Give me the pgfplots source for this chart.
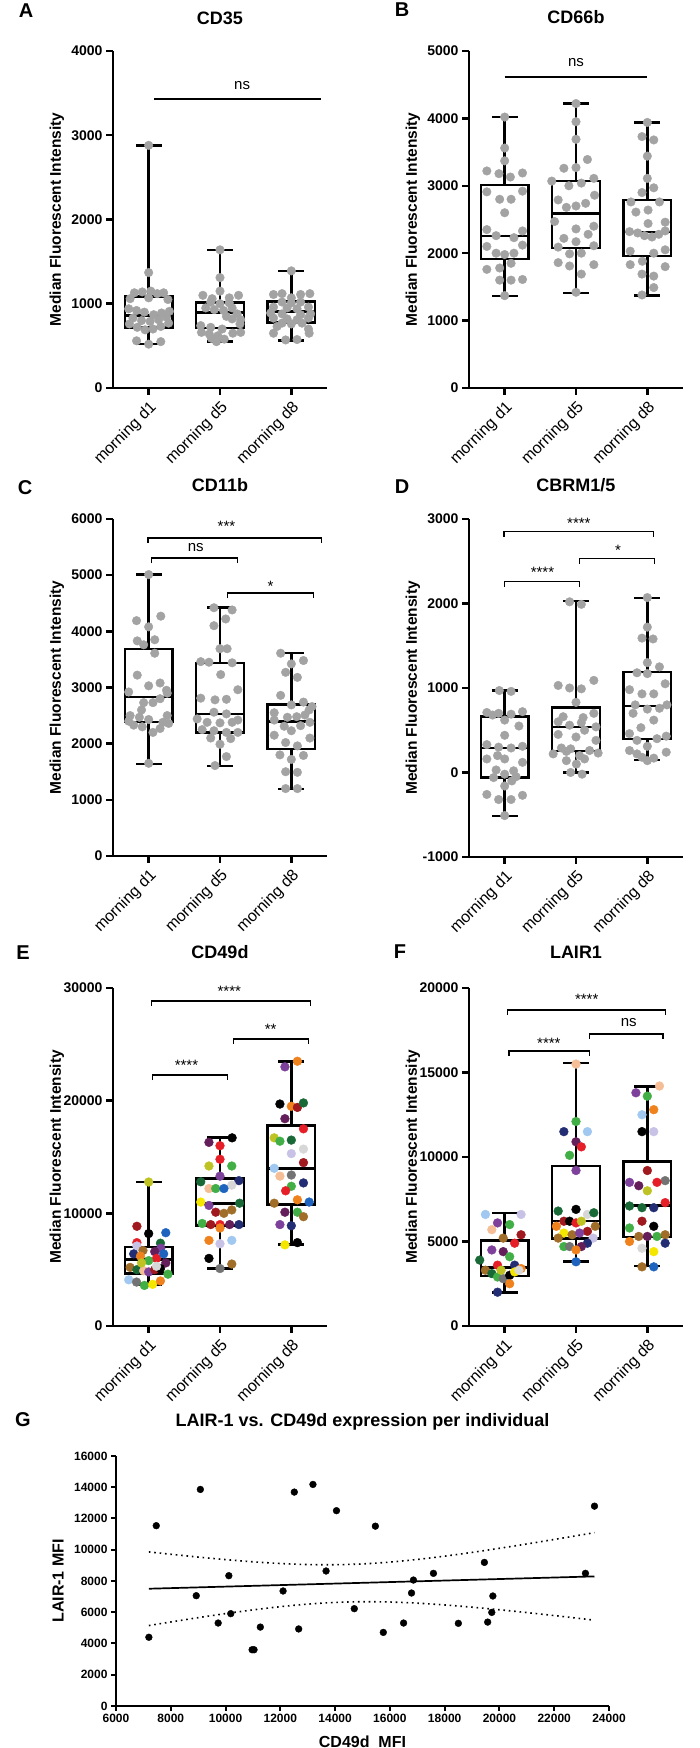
\documentclass[border=0pt]{standalone}
\usepackage{fontspec}
\setmainfont{Liberation Sans}
\usepackage{pgfplots}
\pgfplotsset{compat=1.18}

\definecolor{ptgrey}{RGB}{163,163,163}
\definecolor{cRed}{RGB}{230,30,40}
\definecolor{cDarkRed}{RGB}{160,25,30}
\definecolor{cBlue}{RGB}{30,100,190}
\definecolor{cNavy}{RGB}{35,45,115}
\definecolor{cDarkGreen}{RGB}{25,105,55}
\definecolor{cGreen}{RGB}{65,175,70}
\definecolor{cYellowGreen}{RGB}{190,195,35}
\definecolor{cYellow}{RGB}{245,230,0}
\definecolor{cOrange}{RGB}{240,130,30}
\definecolor{cBrown}{RGB}{160,110,40}
\definecolor{cPurple}{RGB}{125,65,155}
\definecolor{cDarkPurple}{RGB}{100,30,90}
\definecolor{cLavender}{RGB}{200,195,230}
\definecolor{cLightBlue}{RGB}{160,200,240}
\definecolor{cPeach}{RGB}{245,190,150}
\definecolor{cGrey}{RGB}{115,115,115}
\definecolor{cLightGrey}{RGB}{215,215,215}

\pgfplotsset{
  boxax/.style={
    scale only axis, width=214pt, height=337pt,
    xmin=-0.5, xmax=2.5,
    axis x line*=bottom, axis y line*=left,
    axis line style={line width=2.5pt, -},
    tick align=outside, major tick length=7pt,
    every tick/.style={black, line width=2.5pt},
    scaled y ticks=false, scaled x ticks=false,
    xtick={0,1,2}, xticklabels={morning d1, morning d5, morning d8},
    xticklabel style={rotate=45, anchor=north east, font=\fontsize{16}{18}\selectfont},
    yticklabel style={font=\fontsize{14}{16}\selectfont\bfseries},
    ylabel={Median Fluorescent Intensity},
    ylabel style={font=\fontsize{15.5}{18}\selectfont\bfseries, at={(axis description cs:-0.262,0.5)}, anchor=center},
    title style={font=\fontsize{18}{20}\selectfont\bfseries, at={(axis description cs:0.5,1)}, anchor=base},
    clip=false,
  },
  bp/.style={black, line width=2.5pt, solid, mark=none, line join=miter, line cap=rect, forget plot},
  gp/.style={only marks, mark=*, mark size=4.3pt, color=ptgrey},
  cp/.style={scatter, only marks, mark=*, mark size=4.4pt, scatter src=explicit symbolic,
    scatter/classes={
      r={cRed}, dr={cDarkRed}, k={black}, b={cBlue}, nv={cNavy}, dg={cDarkGreen},
      g={cGreen}, yg={cYellowGreen}, y={cYellow}, o={cOrange}, br={cBrown},
      p={cPurple}, dp={cDarkPurple}, lv={cLavender}, lb={cLightBlue}, pc={cPeach},
      gr={cGrey}, lg={cLightGrey}}},
}
\tikzset{
  sigline/.style={line width=1.1pt, black},
  sigtxt/.style={font=\fontsize{15}{17}\selectfont, anchor=center, inner sep=0pt},
  letter/.style={font=\fontsize{20}{22}\selectfont\bfseries, anchor=center},
}
% box: left, right, q1, median, q3
\newcommand{\bxbox}[5]{%
  \addplot[bp] coordinates {(#1,#3) (#2,#3) (#2,#5) (#1,#5) (#1,#3)};
  \addplot[bp] coordinates {(#1,#4) (#2,#4)};}
% whiskers: centre, cap left, cap right, lower whisker, q1, q3, upper whisker
\newcommand{\bxwh}[7]{%
  \addplot[bp] coordinates {(#1,#6) (#1,#7)};
  \addplot[bp] coordinates {(#1,#4) (#1,#5)};
  \addplot[bp] coordinates {(#2,#7) (#3,#7)};
  \addplot[bp] coordinates {(#2,#4) (#3,#4)};}

\begin{document}
\begin{tikzpicture}
\useasboundingbox (0pt,0pt) rectangle (700pt,1748pt);

\node[letter] at (26pt,1737pt) {A};
\node[letter] at (402pt,1738pt) {B};
\node[letter] at (25pt,1260pt) {C};
\node[letter] at (402pt,1261pt) {D};
\node[letter] at (23pt,795pt) {E};
\node[letter] at (400pt,796pt) {F};
\node[letter] at (23pt,328pt) {G};

% ---------------- A -----------------
\begin{axis}[boxax, at={(113pt,1360pt)}, anchor=south west,
  ymin=0, ymax=4000, ytick={0,1000,2000,3000,4000}, yticklabels={0,1000,2000,3000,4000},
  title={CD35}, title style={yshift=20pt}]
\bxbox{-0.335}{0.335}{715}{858}{1087}
\bxwh{0}{-0.165}{0.165}{520}{715}{1087}{2880}
\bxbox{0.665}{1.335}{711}{897}{1012}
\bxwh{1}{0.835}{1.165}{553}{711}{1012}{1640}
\bxbox{1.665}{2.335}{775}{909}{1028}
\bxwh{2}{1.835}{2.165}{565}{775}{1028}{1390}
\addplot[gp] table[row sep=\\] {x y\\
0 2880\\ 0 1370\\ -0.2 1130\\ -0.09 1140\\ 0.03 1150\\ 0.12 1120\\ 0.21 1130\\ -0.26 1060\\ 0.0 1070\\ 0.27 1050\\
-0.28 940\\ -0.17 920\\ -0.06 900\\ 0.07 870\\ 0.18 890\\ 0.29 910\\ -0.22 830\\ -0.1 800\\ 0.02 790\\ 0.14 810\\
0.25 840\\ -0.27 760\\ -0.16 720\\ -0.05 690\\ 0.06 700\\ 0.17 730\\ 0.28 770\\ -0.17 560\\ 0 520\\ 0.17 550\\
1 1640\\ 1 1310\\ 1 1150\\ 0.76 1100\\ 0.89 1060\\ 1.13 1070\\ 1.26 1100\\ 0.87 1020\\ 1 1000\\ 1.13 1010\\
0.8 950\\ 0.92 930\\ 1.05 920\\ 1.17 950\\ 1.24 880\\ 1.09 850\\ 1.17 820\\ 1.29 810\\ 0.73 740\\ 0.87 720\\
1.03 700\\ 0.74 660\\ 0.85 640\\ 0.97 620\\ 1.18 650\\ 1.29 660\\ 0.88 590\\ 1.06 580\\ 0.95 550\\ 1.28 760\\
2 1390\\ 1.75 1110\\ 1.87 1120\\ 2.13 1110\\ 2.26 1120\\ 2 1070\\ 1.87 1020\\ 2 1010\\ 2.13 1020\\ 1.75 960\\
1.94 950\\ 2.08 940\\ 2.24 960\\ 1.71 890\\ 1.87 880\\ 2.13 870\\ 2.27 880\\ 1.75 830\\ 1.94 820\\ 2.08 810\\
2.24 830\\ 1.87 770\\ 2 760\\ 2.15 770\\ 2.24 700\\ 1.75 650\\ 2.25 650\\ 1.92 570\\ 2.08 575\\ 1.8 730\\
};
\draw[sigline] (axis cs:0.08,3430) -- (axis cs:2.41,3430);
\node[sigtxt] at (axis cs:1.31,3585) {ns};
\end{axis}

% ---------------- B -----------------
\begin{axis}[boxax, at={(469pt,1360pt)}, anchor=south west,
  ymin=0, ymax=5000, ytick={0,1000,2000,3000,4000,5000}, yticklabels={0,1000,2000,3000,4000,5000},
  title={CD66b}, title style={yshift=21pt}]
\bxbox{-0.335}{0.335}{1917}{2258}{3014}
\bxwh{0}{-0.165}{0.165}{1364}{1917}{3014}{4022}
\bxbox{0.665}{1.335}{2075}{2589}{3073}
\bxwh{1}{0.835}{1.165}{1408}{2075}{3073}{4224}
\bxbox{1.665}{2.335}{1957}{2312}{2787}
\bxwh{2}{1.835}{2.165}{1374}{1957}{2787}{3938}
\addplot[gp] table[row sep=\\] {x y\\
0 4020\\ 0 3560\\ 0 3370\\ -0.25 3220\\ -0.08 3180\\ 0.08 3130\\ 0.25 3190\\ -0.25 2910\\ 0.25 2920\\ -0.07 2800\\
0.09 2800\\ 0 2600\\ -0.25 2350\\ 0.25 2330\\ -0.12 2260\\ 0.13 2230\\ 0.25 2120\\ -0.25 2100\\ -0.12 2000\\ 0.13 2000\\
0 1980\\ 0.09 1850\\ -0.07 1780\\ -0.25 1760\\ -0.07 1600\\ 0.09 1600\\ 0.25 1610\\ 0 1370\\
1 4220\\ 1 3950\\ 1 3690\\ 1.16 3390\\ 0.83 3260\\ 1 3270\\ 1.25 3110\\ 0.66 3070\\ 1.075 3040\\ 0.9 3000\\
1.26 2860\\ 0.75 2790\\ 1.135 2740\\ 0.865 2680\\ 1 2700\\ 0.7 2470\\ 1.25 2400\\ 1 2360\\ 1.17 2280\\ 0.83 2220\\
1 2170\\ 1.25 2110\\ 0.75 2090\\ 0.91 1990\\ 1.075 2000\\ 0.75 1860\\ 0.91 1810\\ 1.25 1830\\ 1.075 1690\\ 1 1420\\
2 3940\\ 1.925 3730\\ 2.09 3680\\ 2 3440\\ 2 3110\\ 2.09 2970\\ 1.925 2900\\ 1.77 2760\\ 2.17 2760\\ 1.84 2610\\
2.01 2640\\ 2.25 2460\\ 2.01 2440\\ 1.75 2320\\ 1.865 2300\\ 1.96 2260\\ 2.065 2240\\ 2.16 2280\\ 2.25 2330\\ 1.76 2030\\
2.09 2000\\ 2.25 2050\\ 1.93 1880\\ 1.76 1830\\ 2.25 1800\\ 1.925 1690\\ 2.09 1660\\ 2.09 1490\\ 1.925 1380\\
};
\draw[sigline] (axis cs:0,4614) -- (axis cs:2,4614);
\node[sigtxt] at (axis cs:1,4822) {ns};
\end{axis}

% ---------------- C -----------------
\begin{axis}[boxax, at={(113pt,892pt)}, anchor=south west,
  ymin=0, ymax=6000, ytick={0,1000,2000,3000,4000,5000,6000}, yticklabels={0,1000,2000,3000,4000,5000,6000},
  title={CD11b}, title style={yshift=21pt}]
\bxbox{-0.335}{0.335}{2384}{2829}{3684}
\bxwh{0}{-0.165}{0.165}{1641}{2384}{3684}{5014}
\bxbox{0.665}{1.335}{2200}{2532}{3435}
\bxwh{1}{0.835}{1.165}{1606}{2200}{3435}{4426}
\bxbox{1.665}{2.335}{1903}{2395}{2698}
\bxwh{2}{1.835}{2.165}{1190}{1903}{2698}{3613}
\addplot[gp] table[row sep=\\] {x y\\
0 5010\\ 0.17 4270\\ -0.17 4190\\ 0 4080\\ 0.085 3850\\ -0.16 3830\\ -0.07 3760\\ 0.085 3610\\ -0.16 3220\\ 0.16 3080\\
0 3030\\ -0.28 2920\\ 0.16 2800\\ -0.07 2730\\ 0.06 2730\\ 0.26 2900\\ -0.26 2500\\ -0.13 2470\\ 0 2430\\ 0.26 2500\\
-0.28 2400\\ -0.21 2330\\ 0.28 2360\\ 0.16 2270\\ -0.09 2300\\ 0.06 2200\\ 0 1650\\ 0.2 2380\\ -0.1 2600\\ 0.25 2950\\
0.915 4420\\ 1.17 4380\\ 1.08 4220\\ 0.915 4100\\ 1 3690\\ 1.1 3690\\ 0.73 3460\\ 0.845 3450\\ 1.17 3440\\ 1.01 3230\\
1.25 2960\\ 0.73 2810\\ 0.93 2780\\ 1.09 2790\\ 0.915 2560\\ 1.09 2530\\ 0.68 2440\\ 0.82 2380\\ 1 2370\\ 1.17 2380\\
1.25 2420\\ 0.75 2250\\ 0.915 2230\\ 1.09 2200\\ 1.25 2200\\ 0.87 2100\\ 1.15 2090\\ 1 1990\\ 1.09 1770\\ 0.93 1610\\
1.85 3610\\ 2.17 3480\\ 2 3420\\ 1.92 3270\\ 2.085 3180\\ 1.85 2860\\ 2.17 2740\\ 2 2690\\ 2.29 2660\\ 1.76 2550\\
1.945 2470\\ 2.075 2480\\ 2.19 2510\\ 1.76 2420\\ 2.26 2380\\ 1.9 2310\\ 2.13 2320\\ 2 2230\\ 1.76 2150\\ 2.26 2100\\
1.92 2020\\ 2.085 1960\\ 1.84 1800\\ 2 1720\\ 2.17 1790\\ 1.92 1500\\ 2.085 1490\\ 1.92 1200\\ 2.085 1200\\ 2.25 2600\\
};
\draw[sigline] ([yshift=-5pt]axis cs:-0.01,5661) -- (axis cs:-0.01,5661) -- (axis cs:2.42,5661) -- ([yshift=-5pt]axis cs:2.42,5661);
\node[sigtxt] at (axis cs:1.09,5875) {***};
\draw[sigline] ([yshift=-5pt]axis cs:0.04,5305) -- (axis cs:0.04,5305) -- (axis cs:1.24,5305) -- ([yshift=-5pt]axis cs:1.24,5305);
\node[sigtxt] at (axis cs:0.66,5483) {ns};
\draw[sigline] ([yshift=-5pt]axis cs:1.10,4682) -- (axis cs:1.10,4682) -- (axis cs:2.31,4682) -- ([yshift=-5pt]axis cs:2.31,4682);
\node[sigtxt] at (axis cs:1.71,4807) {*};
\end{axis}

% ---------------- D -----------------
\begin{axis}[boxax, at={(469pt,891pt)}, anchor=south west, height=338pt,
  ymin=-1000, ymax=3000, ytick={-1000,0,1000,2000,3000}, yticklabels={-1000,0,1000,2000,3000},
  title={CBRM1/5}, title style={yshift=21pt}]
\bxbox{-0.335}{0.335}{-59}{287}{661}
\bxwh{0}{-0.165}{0.165}{-512}{-59}{661}{972}
\bxbox{0.665}{1.335}{256}{539}{768}
\bxwh{1}{0.835}{1.165}{0}{256}{768}{2028}
\bxbox{1.665}{2.335}{394}{787}{1189}
\bxwh{2}{1.835}{2.165}{146}{394}{1189}{2067}
\addplot[gp] table[row sep=\\] {x y\\
-0.075 970\\ 0.09 960\\ -0.25 710\\ -0.085 700\\ -0.17 680\\ 0 620\\ 0.09 690\\ 0.25 720\\ 0 440\\ -0.25 330\\
-0.085 300\\ 0.09 290\\ 0.25 310\\ -0.25 160\\ 0.25 120\\ 0 160\\ -0.12 30\\ 0.125 20\\ 0 -20\\ -0.155 -60\\
0.16 -50\\ 0 -160\\ -0.25 -260\\ 0.25 -270\\ -0.085 -320\\ 0.09 -320\\ 0 -510\\ 0.2 550\\ -0.1 200\\ 0.1 -100\\
0.91 2020\\ 1.075 1990\\ 1.25 1090\\ 0.75 1030\\ 0.91 1000\\ 1.075 990\\ 1 830\\ 1.25 700\\ 0.82 660\\ 1.1 650\\
0.75 600\\ 1.075 590\\ 0.91 560\\ 1.28 540\\ 1.12 500\\ 0.75 450\\ 1 420\\ 0.795 290\\ 0.925 280\\ 1.19 260\\
1.31 230\\ 0.68 220\\ 1.05 200\\ 0.865 140\\ 1.12 160\\ 0.925 0\\ 1.085 -20\\ 0.865 250\\ 1.005 100\\ 1.28 380\\
2 2070\\ 2 1720\\ 1.925 1590\\ 2.08 1580\\ 2 1300\\ 2.17 1250\\ 1.855 1180\\ 2 1170\\ 2.25 1050\\ 1.75 980\\
1.925 930\\ 2.09 930\\ 1.83 800\\ 2.275 800\\ 2 750\\ 2.17 760\\ 2.09 620\\ 1.91 530\\ 1.75 460\\ 2.265 430\\
1.855 380\\ 2.135 400\\ 2 310\\ 1.75 260\\ 1.855 220\\ 2.265 240\\ 1.925 180\\ 2.09 170\\ 2 140\\ 1.8 700\\
};
\draw[sigline] ([yshift=-5pt]axis cs:-0.01,2847) -- (axis cs:-0.01,2847) -- (axis cs:2.09,2847) -- ([yshift=-5pt]axis cs:2.09,2847);
\node[sigtxt] at (axis cs:1.04,2953) {****};
\draw[sigline] ([yshift=-5pt]axis cs:1.05,2528) -- (axis cs:1.05,2528) -- (axis cs:2.10,2528) -- ([yshift=-5pt]axis cs:2.10,2528);
\node[sigtxt] at (axis cs:1.59,2634) {*};
\draw[sigline] ([yshift=-5pt]axis cs:0,2257) -- (axis cs:0,2257) -- (axis cs:1.05,2257) -- ([yshift=-5pt]axis cs:1.05,2257);
\node[sigtxt] at (axis cs:0.53,2363) {****};
\end{axis}

% ---------------- E -----------------
\begin{axis}[boxax, at={(113pt,422pt)}, anchor=south west, height=338pt,
  ymin=0, ymax=30000, ytick={0,10000,20000,30000}, yticklabels={0,10000,20000,30000},
  title={CD49d}, title style={yshift=23pt}]
\bxbox{-0.335}{0.335}{4645}{5917}{7012}
\bxwh{0}{-0.165}{0.165}{3698}{4645}{7012}{12781}
\bxbox{0.665}{1.335}{8935}{10858}{13077}
\bxwh{1}{0.835}{1.165}{5089}{8935}{13077}{16716}
\bxbox{1.665}{2.335}{10799}{13964}{17811}
\bxwh{2}{1.835}{2.165}{7249}{10799}{17811}{23491}
\addplot[cp] table[row sep=\\, meta=c] {x y c\\
0 12780 yg\\ -0.165 8850 dr\\ 0 8200 k\\ 0.24 8280 b\\ -0.165 7400 r\\ 0.165 7350 dg\\ 0.17 6900 p\\ -0.165 7100 lv\\
-0.08 6700 br\\ 0.085 6600 dp\\ -0.21 6400 nv\\ -0.115 6200 o\\ 0.11 6000 r\\ 0.21 6400 b\\ 0.24 5600 dp\\ 0 5800 g\\
-0.26 5200 br\\ -0.165 5000 dg\\ -0.07 4900 pc\\ 0 4800 p\\ 0.085 5000 dr\\ 0.165 5100 k\\ 0.27 4600 g\\ -0.28 4100 lb\\
-0.17 3900 gr\\ -0.06 3600 g\\ 0.055 3700 y\\ 0.165 4000 o\\ 0.11 5300 lg\\ -0.1 5600 yg\\
1.17 16700 k\\ 0.845 16300 dp\\ 1 16000 r\\ 1 14800 r\\ 0.845 14200 yg\\ 1.165 14200 g\\ 1 13300 p\\ 0.73 12800 dg\\
1.265 12900 nv\\ 1.165 12500 lg\\ 0.845 12200 pc\\ 0.94 12200 g\\ 1.055 12200 b\\ 0.73 11000 y\\ 1.275 10900 dg\\
0.845 10700 p\\ 0.94 10100 dr\\ 1.055 10000 br\\ 1.165 10300 br\\ 0.75 9100 g\\ 0.87 9000 dr\\ 1 9000 r\\ 1.135 9000 dp\\
1.265 9000 nv\\ 1 8700 o\\ 0.845 7600 o\\ 1.165 7600 lb\\ 1 7300 lv\\ 0.845 6000 k\\ 1 5100 gr\\ 1.165 5500 br\\
2.085 23500 o\\ 1.91 23000 p\\ 1.84 19700 k\\ 2 19500 o\\ 2.085 19400 dr\\ 2.17 19800 dg\\ 1.91 18400 dp\\ 2.17 17500 r\\
1.76 16700 yg\\ 1.84 16400 g\\ 2 16500 dg\\ 2.17 15700 lg\\ 2 15300 lv\\ 2.17 14500 dr\\ 1.76 14000 lb\\ 1.84 13300 pc\\
2 13400 gr\\ 2.17 12700 nv\\ 2 12400 g\\ 1.92 12000 r\\ 2.085 11200 o\\ 2.25 11000 b\\ 1.76 10900 br\\ 1.91 10100 dp\\
2.085 10100 g\\ 2.17 9700 br\\ 1.84 9000 p\\ 2 8900 nv\\ 2.085 7400 k\\ 1.91 7200 y\\
};
\draw[sigline] ([yshift=-5pt]axis cs:0.04,28846) -- (axis cs:0.04,28846) -- (axis cs:2.27,28846) -- ([yshift=-5pt]axis cs:2.27,28846);
\node[sigtxt] at (axis cs:1.13,29733) {****};
\draw[sigline] ([yshift=-5pt]axis cs:1.19,25473) -- (axis cs:1.19,25473) -- (axis cs:2.24,25473) -- ([yshift=-5pt]axis cs:2.24,25473);
\node[sigtxt] at (axis cs:1.71,26360) {**};
\draw[sigline] ([yshift=-5pt]axis cs:0.06,22277) -- (axis cs:0.06,22277) -- (axis cs:1.10,22277) -- ([yshift=-5pt]axis cs:1.10,22277);
\node[sigtxt] at (axis cs:0.53,23165) {****};
\end{axis}

% ---------------- F -----------------
\begin{axis}[boxax, at={(469pt,422pt)}, anchor=south west, height=338pt,
  ymin=0, ymax=20000, ytick={0,5000,10000,15000,20000}, yticklabels={0,5000,10000,15000,20000},
  title={LAIR1}, title style={yshift=23pt}]
\bxbox{-0.335}{0.335}{2959}{3452}{5069}
\bxwh{0}{-0.165}{0.165}{1972}{2959}{5069}{6686}
\bxbox{0.665}{1.335}{5168}{6213}{9467}
\bxwh{1}{0.835}{1.165}{3826}{5168}{9467}{15562}
\bxbox{1.665}{2.335}{5266}{7140}{9744}
\bxwh{2}{1.835}{2.165}{3550}{5266}{9744}{14181}
\addplot[cp] table[row sep=\\, meta=c] {x y c\\
-0.27 6600 lb\\ 0.23 6600 lv\\ -0.1 6100 p\\ 0.07 6000 g\\ -0.18 5700 pc\\ 0.23 5400 dr\\ -0.02 5200 br\\ 0.14 4900 r\\
-0.18 4500 p\\ -0.02 4400 dp\\ 0.07 4100 g\\ -0.35 3900 dg\\ -0.1 3600 r\\ 0.14 3600 nv\\ 0.23 3400 o\\ -0.27 3300 br\\
-0.18 3100 dg\\ -0.1 2900 g\\ -0.02 2800 gr\\ 0.07 3000 k\\ 0.14 3200 y\\ 0.07 2500 o\\ -0.1 2000 nv\\ 0.2 3300 lg\\ -0.05 3300 yg\\
1 15500 pc\\ 1 12100 g\\ 0.83 11500 nv\\ 1.16 11500 lb\\ 1 10900 dp\\ 1.075 10600 r\\ 0.91 10100 g\\ 1 9200 p\\
0.75 6800 dg\\ 1 6900 k\\ 1.16 6600 lg\\ 1.25 6700 dg\\ 0.83 6200 dr\\ 0.91 6200 k\\ 1 6100 r\\ 1.075 6200 yg\\
0.725 5900 o\\ 1.27 5900 br\\ 1.16 5600 dr\\ 0.83 5500 y\\ 0.945 5400 br\\ 1.05 5500 p\\ 0.75 5200 br\\ 1.24 5200 lv\\
1.16 4900 nv\\ 1.075 4700 dp\\ 0.83 4700 g\\ 0.91 4700 gr\\ 1 4500 o\\ 1 3800 b\\
2.17 14200 pc\\ 1.84 13800 p\\ 2 13600 g\\ 2.09 12800 o\\ 1.925 12500 lb\\ 1.925 11500 k\\ 2.09 11500 lv\\ 2 9200 dr\\
2.25 8600 gr\\ 2.135 8500 r\\ 1.75 8500 p\\ 1.88 8300 dp\\ 2 8000 yg\\ 2.25 7300 r\\ 1.75 7100 dg\\ 1.925 7000 dg\\
2.09 7000 nv\\ 1.925 6200 dr\\ 2.09 5900 k\\ 1.75 5800 g\\ 1.88 5300 br\\ 2 5300 dp\\ 2.135 5300 g\\ 2.25 5400 br\\
1.75 5000 o\\ 2.25 4900 nv\\ 1.925 4600 lg\\ 2.09 4400 y\\ 1.925 3500 br\\ 2.09 3500 b\\
};
\draw[sigline] ([yshift=-5pt]axis cs:0.04,18698) -- (axis cs:0.04,18698) -- (axis cs:2.25,18698) -- ([yshift=-5pt]axis cs:2.25,18698);
\node[sigtxt] at (axis cs:1.15,19349) {****};
\draw[sigline] ([yshift=-5pt]axis cs:1.19,17278) -- (axis cs:1.19,17278) -- (axis cs:2.22,17278) -- ([yshift=-5pt]axis cs:2.22,17278);
\node[sigtxt] at (axis cs:1.74,17929) {ns};
\draw[sigline] ([yshift=-5pt]axis cs:0.06,16272) -- (axis cs:0.06,16272) -- (axis cs:1.19,16272) -- ([yshift=-5pt]axis cs:1.19,16272);
\node[sigtxt] at (axis cs:0.62,16746) {****};
\end{axis}

% ---------------- G -----------------
\begin{axis}[at={(116pt,42pt)}, anchor=south west,
  scale only axis, width=493pt, height=250pt,
  xmin=6000, xmax=24000, ymin=0, ymax=16000,
  axis x line*=bottom, axis y line*=left,
  axis line style={line width=2pt, -},
  tick align=outside, major tick length=5pt,
  every tick/.style={black, line width=2pt},
  scaled y ticks=false, scaled x ticks=false,
  xtick={6000,8000,10000,12000,14000,16000,18000,20000,22000,24000},
  xticklabels={6000,8000,10000,12000,14000,16000,18000,20000,22000,24000},
  ytick={0,2000,4000,6000,8000,10000,12000,14000,16000},
  yticklabels={0,2000,4000,6000,8000,10000,12000,14000,16000},
  ticklabel style={font=\fontsize{12}{14}\selectfont\bfseries},
  title={LAIR-1 vs. CD49d expression per individual},
  title style={font=\fontsize{18}{20}\selectfont\bfseries, at={(axis description cs:0.5,1)}, anchor=base, yshift=23pt},
  ylabel={LAIR-1 MFI},
  ylabel style={font=\fontsize{16}{18}\selectfont\bfseries, at={(axis description cs:-0.1176,0.5)}, anchor=center},
  xlabel={CD49d~~MFI},
  xlabel style={font=\fontsize{16}{18}\selectfont\bfseries, at={(axis description cs:0.5,-0.144)}, anchor=center},
  clip=false]
\addplot[black, line width=1.6pt, smooth, dash pattern=on 1.6pt off 3.8pt] coordinates {
(7200,9861) (8000,9711) (9000,9531) (10000,9369) (11000,9228) (12000,9119) (13000,9052) (14000,9041) (15000,9093)
(16000,9209) (17000,9378) (18000,9590) (19000,9830) (20000,10093) (21000,10369) (22000,10658) (23000,10953) (23470,11095)};
\addplot[black, line width=1.6pt, smooth, dash pattern=on 1.6pt off 3.8pt] coordinates {
(7200,5149) (8000,5377) (9000,5653) (10000,5913) (11000,6150) (12000,6357) (13000,6520) (14000,6629) (15000,6673)
(16000,6655) (17000,6582) (18000,6468) (19000,6324) (20000,6159) (21000,5979) (22000,5788) (23000,5589) (23470,5493)};
\addplot[black, line width=1.7pt] coordinates {(7200,7505) (23470,8294)};
\addplot[only marks, mark=*, mark size=3.4pt, black] table[row sep=\\] {x y\\
7200 4400\\ 7470 11540\\ 9080 13860\\ 8930 7060\\ 9730 5310\\ 10120 8340\\ 10190 5910\\ 10970 3600\\ 11040 3600\\ 11270 5050\\
12100 7360\\ 12510 13690\\ 12670 4930\\ 13190 14180\\ 13670 8640\\ 14050 12500\\ 14700 6230\\ 15470 11510\\ 15760 4710\\ 16500 5310\\
16790 7230\\ 16860 8060\\ 17590 8490\\ 18500 5290\\ 19450 9190\\ 19570 5370\\ 19720 5990\\ 19760 7040\\ 23140 8490\\ 23470 12790\\
};
\end{axis}
\end{tikzpicture}
\end{document}
